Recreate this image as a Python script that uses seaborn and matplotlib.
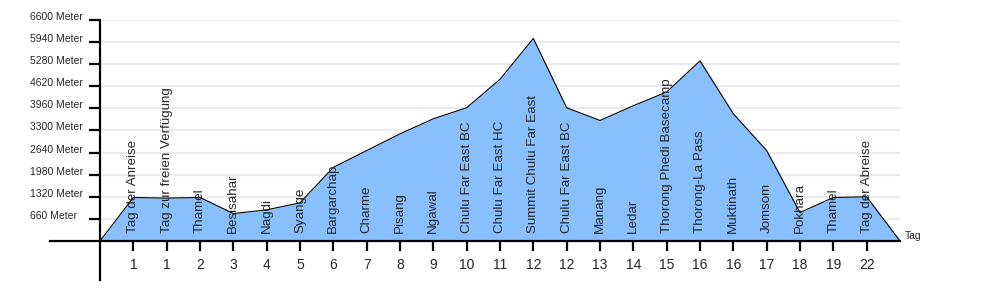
import matplotlib
matplotlib.use("Agg")
import matplotlib.pyplot as plt
import seaborn as sns
import pandas as pd
import numpy as np

sns.set_style("white")
plt.rcParams['font.family'] = ['Liberation Sans', 'DejaVu Sans']

places = ["Tag der Anreise", "Tag zur freien Verfügung", "Thamel", "Besisahar", "Nagdi",
          "Syange", "Bargarchap", "Charme", "Pisang", "Ngawal", "Chulu Far East BC",
          "Chulu Far East HC", "Summit Chulu Far East", "Chulu Far East BC", "Manang",
          "Ledar", "Thorong Phedi Basecamp", "Thorong-La Pass", "Muktinath", "Jomsom",
          "Pokhara", "Thamel", "Tag der Abreise"]
days = ["1", "1", "2", "3", "4", "5", "6", "7", "8", "9", "10", "11", "12", "12",
        "13", "14", "15", "16", "16", "17", "18", "19", "22"]
altitude = [1300, 1280, 1300, 820, 930, 1140, 2200, 2700, 3200, 3650, 3980, 4830,
            6050, 3980, 3600, 4040, 4450, 5380, 3800, 2700, 850, 1300, 1320]
y_ticks = [660, 1320, 1980, 2640, 3300, 3960, 4620, 5280, 5940, 6600]

n = len(places)
pos = list(range(1, n + 1))
# profile starts and ends at zero
px = [0] + pos + [n + 1]
py = [0] + altitude + [0]
df = pd.DataFrame({"x": px, "y": py})

fig = plt.figure(figsize=(10, 3), dpi=100)
ax = fig.add_axes([50/1000, 20/300, 850/1000, 260/300])
ax.set_xlim(-1.5, n + 1)
ax.set_ylim(-1165, 6600)

# gridlines
for v in y_ticks:
    ax.plot([0, n + 1], [v, v], color="#ebebeb", lw=1.6, zorder=0, solid_capstyle="butt")

ax.fill_between(df["x"], df["y"], 0, color="#88c0ff", zorder=1, lw=0)
sns.lineplot(data=df, x="x", y="y", ax=ax, color="black", lw=0.8, zorder=2,
             sort=False, estimator=None)

for p, name in zip(pos, places):
    ax.text(p, 230, name, rotation=90, ha="center", va="bottom", fontsize=9.6, zorder=3)

# spines through origin
for s in ["top", "right"]:
    ax.spines[s].set_visible(False)
ax.spines["left"].set_position(("data", 0))
ax.spines["bottom"].set_position(("data", 0))
for s in ["left", "bottom"]:
    ax.spines[s].set_linewidth(1.6)
    ax.spines[s].set_color("black")
    ax.spines[s].set_zorder(4)

ax.set_xticks(pos)
ax.set_xticklabels(days, fontsize=10)
ax.tick_params(axis="x", bottom=True, direction="out", length=7, width=1.6, pad=5, color="black")
ax.set_yticks(y_ticks)
ax.set_yticklabels([])
ax.tick_params(axis="y", left=True, direction="out", length=8, width=1.6, color="black")

ytrans = ax.get_yaxis_transform()
for v in y_ticks:
    ax.text((30 - 50) / 850, v, f"{v} Meter", transform=ytrans, ha="left",
            va="baseline", fontsize=7.5, clip_on=False)

ax.text(n + 1.15, 150, "Tag", ha="left", va="center", fontsize=7.5)
ax.set_xlabel("")
ax.set_ylabel("")

fig.savefig("out.png", dpi=100)
